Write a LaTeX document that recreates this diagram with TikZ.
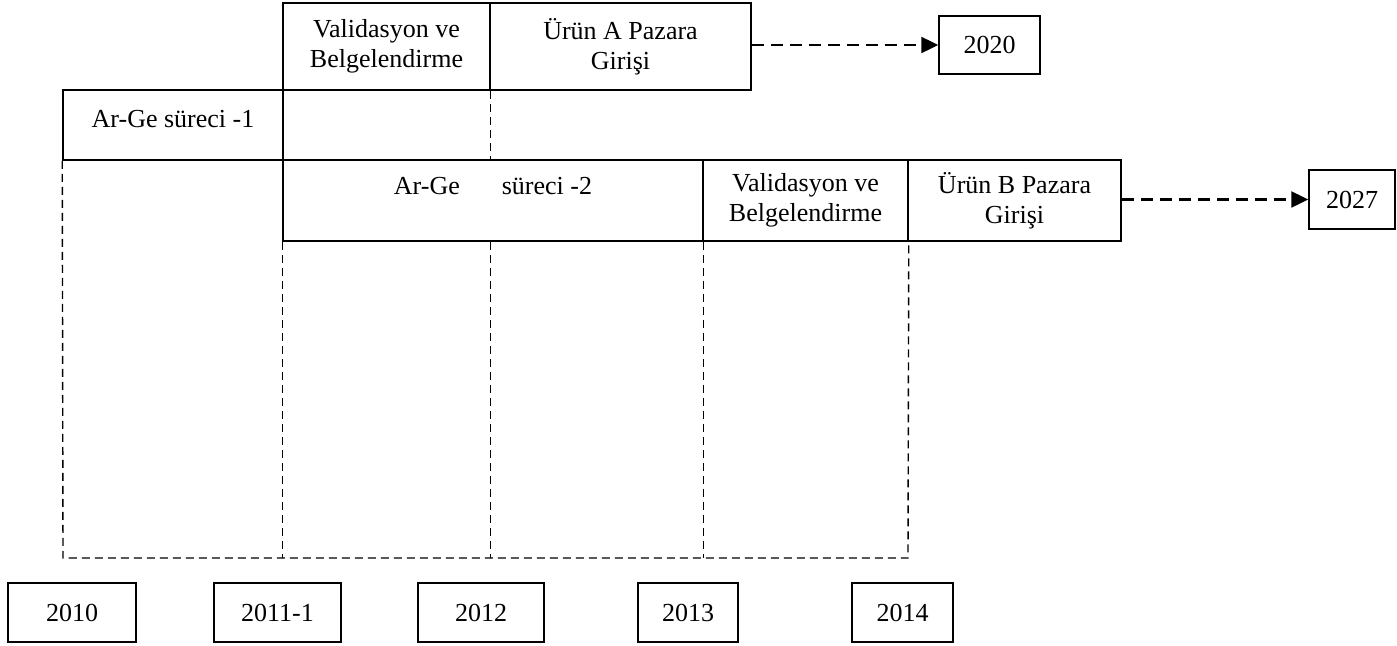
\documentclass[tikz,border=0pt]{standalone}
\usepackage{fontspec}
\setmainfont{Liberation Serif}
\usetikzlibrary{arrows.meta}
\tikzset{
  box/.style={draw, line width=1.5pt, rectangle, inner sep=0pt, align=center,
    font=\fontsize{26}{30}\selectfont},
  dline/.style={line width=1.4pt, dash pattern=on 8pt off 5pt},
  darrow/.style={line width=2.4pt, dash pattern=on 12pt off 7pt,
    -{Triangle[length=17pt,width=16pt]}}
}
\begin{document}
\begin{tikzpicture}[x=1pt,y=-1pt]
\useasboundingbox (0,0) rectangle (1397,645);
% top row
\node[box, minimum width=207pt, minimum height=87pt] (vA) at (386.5,46.5) {Validasyon ve\\Belgelendirme};
\node[box, minimum width=261pt, minimum height=87pt] (uA) at (620.5,46.5) {Ürün A Pazara\\Girişi};
\node[box, minimum width=101pt, minimum height=58pt] (t2020) at (989.5,45) {2020};
% Ar-Ge 1
\node[box, minimum width=220pt, minimum height=70pt, text depth=12pt] (ag1) at (173,125) {Ar-Ge süreci -1};
% second row
\node[box, minimum width=420pt, minimum height=81pt, text depth=29pt] (ag2) at (493,200.5) {Ar-Ge\hspace{42pt}süreci -2};
\node[box, minimum width=205pt, minimum height=81pt, text depth=6pt] (vB) at (805.5,200.5) {Validasyon ve\\Belgelendirme};
\node[box, minimum width=213pt, minimum height=81pt, text depth=6pt] (uB) at (1014.5,200.5) {Ürün B Pazara\\Girişi};
\node[box, minimum width=86pt, minimum height=59pt] (t2027) at (1352,199.5) {2027};
% bottom years
\node[box, minimum width=128pt, minimum height=59pt] (y2010) at (72,612.5) {2010};
\node[box, minimum width=127pt, minimum height=59pt] (y2011) at (277.5,612.5) {2011-1};
\node[box, minimum width=126pt, minimum height=59pt] (y2012) at (481,612.5) {2012};
\node[box, minimum width=100pt, minimum height=59pt] (y2013) at (688,612.5) {2013};
\node[box, minimum width=101pt, minimum height=59pt] (y2014) at (902.5,612.5) {2014};
% arrows
\draw[darrow] (uA.east |- t2020.west) -- (t2020.west);
\draw[darrow] (uB.east |- t2027.west) -- (t2027.west);
% dashed grid
\coordinate (b0) at (63,558);
\coordinate (b4) at (908,558);
\draw[dline] (ag1.south west) -- (b0) -- (b4) -- (vB.south east);
\draw[dline] (ag2.south west) -- (ag2.south west |- b0);
\draw[dline] (vA.south east) -- (vA.south east |- ag2.north);
\draw[dline] (vA.south east |- ag2.south) -- (vA.south east |- b0);
\draw[dline] (ag2.south east) -- (ag2.south east |- b0);
\end{tikzpicture}
\end{document}
